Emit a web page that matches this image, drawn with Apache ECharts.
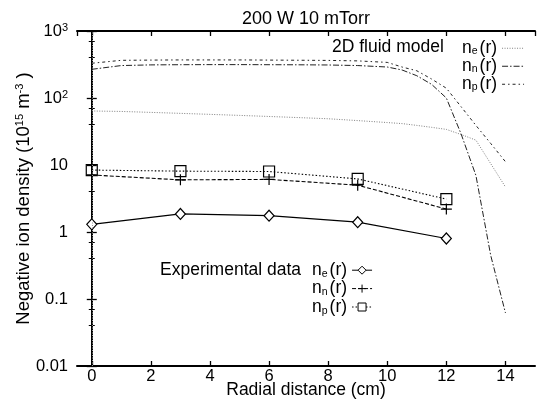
<!DOCTYPE html>
<html><head><meta charset="utf-8">
<script src="https://cdn.jsdelivr.net/npm/echarts@6/dist/echarts.min.js"></script>
<style>html,body{margin:0;padding:0;background:#fff}#c{width:540px;height:403px}</style>
</head><body><div id="c"></div>
<script>
// ---- data ----
const chartTitle = '200 W 10 mTorr';
const xAxisName = 'Radial distance (cm)';
const yAxisName = 'Negative ion density (10{sup|15} m{sup|-3} )';
const modelLabel = '2D fluid model';
const expLabel = 'Experimental data';
const modelX  = [0, 1, 2, 3, 4, 5, 6, 7, 8, 9, 10, 10.5, 11, 11.5, 12, 12.5, 13, 13.5, 14];
const modelNe = [64, 63, 61, 59, 57, 55, 53, 51, 49, 46, 43, 41.5, 39, 36.5, 34, 28.5, 23.5, 10.5, 4.7];
const modelNn = [268, 305, 312, 314, 315, 315, 314, 313, 311, 305, 290, 262, 215, 160, 100, 29, 7, 0.45, 0.062];
const modelNp = [330, 365, 368, 370, 370, 370, 368, 366, 364, 358, 340, 290, 255, 192, 140, 74, 39, 21, 11.2];
const expX  = [0, 3, 6, 9, 12];
const expNe = [1.3, 1.86, 1.75, 1.4, 0.8];
const expNn = [7.1, 6.0, 6.1, 5.0, 2.2];
const expNp = [8.4, 8.1, 8.0, 6.2, 3.1];
const yTickLabels = {'-2':'0.01', '-1':'0.1', '0':'1', '1':'10', '2':'{b|10}{sup|2}', '3':'{b|10}{sup|3}'};
const seriesLabels = {mNe:'e', mNn:'n', mNp:'p', eNe:'e', eNn:'n', eNp:'p'};

// ---- chart ----
const FONT = '"Liberation Sans", Arial, Helvetica, sans-serif';
const pairs = (xs, ys) => xs.map((x, i) => [x, ys[i]]);
const chart = echarts.init(document.getElementById('c'), null, {renderer: 'canvas'});
const richLegend = (lh) => ({
  n: {fontSize: 17.5, fontFamily: FONT, color: '#000', lineHeight: lh},
  s: {fontSize: 10.5, fontFamily: FONT, color: '#000', lineHeight: 12, verticalAlign: 'bottom', padding: [0, 2, 0, 0]}
});
const legendFmt = name => '{n|n}{s|' + seriesLabels[name] + '}{n|(r)}';
const axisLineStyle = {color: '#000', width: 2};
const tickStyle = {color: '#000', width: 1.3};
const plusPath = 'path://M0,5L10,5M5,0L5,10';

const option = {
  animation: false,
  backgroundColor: '#fff',
  title: {text: chartTitle, left: 306, textAlign: 'center', top: 10, padding: 0,
    textStyle: {fontFamily: FONT, fontSize: 18, fontWeight: 'normal', color: '#000'}},
  grid: {left: 77, right: 5, top: 31, bottom: 37, outerBoundsMode: 'none', containLabel: false},
  xAxis: [
    {type: 'value', min: -0.5, max: 15, splitNumber: 8, position: 'bottom',
     axisLine: {show: true, onZero: false, lineStyle: axisLineStyle},
     axisTick: {show: true, inside: true, length: 5, lineStyle: tickStyle},
     axisLabel: {color: '#000', fontFamily: FONT, fontSize: 16.5, margin: 2, showMinLabel: false, showMaxLabel: false,
       formatter: v => (Number.isInteger(v) && v % 2 === 0) ? String(v) : ''},
     splitLine: {show: false},
     name: xAxisName, nameLocation: 'middle', nameGap: 15, nameMoveOverlap: false,
     nameTextStyle: {color: '#000', fontFamily: FONT, fontSize: 17.5}},
    {type: 'value', min: -0.5, max: 15, splitNumber: 8, position: 'top',
     axisLine: {show: true, onZero: false, lineStyle: axisLineStyle},
     axisTick: {show: true, inside: true, length: 5, lineStyle: tickStyle},
     axisLabel: {show: false}, splitLine: {show: false}}
  ],
  yAxis: [
    {type: 'log', logBase: 10, min: 0.01, max: 1000, splitNumber: 5, position: 'left',
     axisLine: {show: true, lineStyle: axisLineStyle},
     axisTick: {show: true, inside: true, length: 5, lineStyle: tickStyle},
     minorTick: {show: true, splitNumber: 3, length: 3, lineStyle: {color: '#000', width: 1}},
     axisLabel: {color: '#000', fontFamily: FONT, fontSize: 16.5, margin: 9,
       formatter: v => yTickLabels[String(Math.round(Math.log10(v)))] || '',
       rich: {b: {fontSize: 16.5, fontFamily: FONT, color: '#000', lineHeight: 18},
              sup: {fontSize: 11, fontFamily: FONT, color: '#000', lineHeight: 12, verticalAlign: 'top'}}},
     splitLine: {show: false},
     name: yAxisName, nameLocation: 'middle', nameGap: 44, nameRotate: 90, nameMoveOverlap: false,
     nameTextStyle: {color: '#000', fontFamily: FONT, fontSize: 18.5,
       rich: {sup: {fontSize: 11, fontFamily: FONT, color: '#000', verticalAlign: 'top', lineHeight: 12}}}},
    {type: 'log', logBase: 10, min: 0.01, max: 1000, splitNumber: 5, position: 'right',
     axisLine: {show: true, lineStyle: axisLineStyle},
     axisTick: {show: true, inside: true, length: 5, lineStyle: tickStyle},
     minorTick: {show: true, splitNumber: 3, length: 3, lineStyle: {color: '#000', width: 1}},
     axisLabel: {show: false}, splitLine: {show: false}}
  ],
  legend: [
    {data: ['mNe', 'mNn', 'mNp'], orient: 'vertical', align: 'right', left: 462, top: 39.25, padding: 0,
     itemWidth: 22, itemHeight: 8, itemGap: 0, selectedMode: false, formatter: legendFmt,
     itemStyle: {color: 'rgba(0,0,0,0)', borderWidth: 0, borderColor: 'rgba(0,0,0,0)'},
     lineStyle: {width: 1},
     textStyle: {rich: richLegend(17.5), lineHeight: 17.5}},
    {data: ['eNe', 'eNn', 'eNp'], orient: 'vertical', align: 'right', left: 312, top: 261, padding: 0,
     itemWidth: 20, itemHeight: 10, itemGap: 0, selectedMode: false, formatter: legendFmt,
     itemStyle: {color: '#fff', borderColor: '#000', borderWidth: 1},
     lineStyle: {width: 1},
     textStyle: {rich: richLegend(18.4), lineHeight: 18.4}}
  ],
  graphic: [
    {type: 'text', x: 332, y: 47, silent: true,
     style: {text: modelLabel, font: '17.5px ' + FONT, fill: '#000', verticalAlign: 'middle', align: 'left'}},
    {type: 'text', x: 160, y: 270, silent: true,
     style: {text: expLabel, font: '17.5px ' + FONT, fill: '#000', verticalAlign: 'middle', align: 'left'}}
  ],
  series: [
    {name: 'mNe', type: 'line', data: pairs(modelX, modelNe), symbol: 'none',
     lineStyle: {color: '#808080', width: 1, type: [1, 1.5]}, itemStyle: {color: '#808080'},
     markLine: {silent: true, symbol: 'none', label: {show: false},
       lineStyle: {color: '#999', width: 1, type: [1, 1.5]}, data: [{xAxis: modelX[0]}]}},
    {name: 'mNn', type: 'line', data: pairs(modelX, modelNn), symbol: 'none',
     lineStyle: {color: '#222', width: 1, type: [6, 2, 1.5, 2]}, itemStyle: {color: '#222'}},
    {name: 'mNp', type: 'line', data: pairs(modelX, modelNp), symbol: 'none',
     lineStyle: {color: '#222', width: 1, type: [3, 3, 1.5, 3]}, itemStyle: {color: '#222'}},
    {name: 'eNe', type: 'line', data: pairs(expX, expNe), symbol: 'diamond', symbolSize: [10, 11],
     lineStyle: {color: '#000', width: 1.2, type: 'solid'},
     itemStyle: {color: '#fff', borderColor: '#000', borderWidth: 1.2}},
    {name: 'eNn', type: 'line', data: pairs(expX, expNn), symbol: plusPath, symbolSize: 11,
     lineStyle: {color: '#000', width: 1.1, type: [4, 2]},
     itemStyle: {color: 'none', borderColor: '#000', borderWidth: 1.2}},
    {name: 'eNp', type: 'line', data: pairs(expX, expNp), symbol: 'rect', symbolSize: 11,
     lineStyle: {color: '#000', width: 1.1, type: [1.5, 2]},
     itemStyle: {color: 'rgba(0,0,0,0)', borderColor: '#000', borderWidth: 1.2}}
  ]
};
chart.setOption(option);
</script>
</body></html>
